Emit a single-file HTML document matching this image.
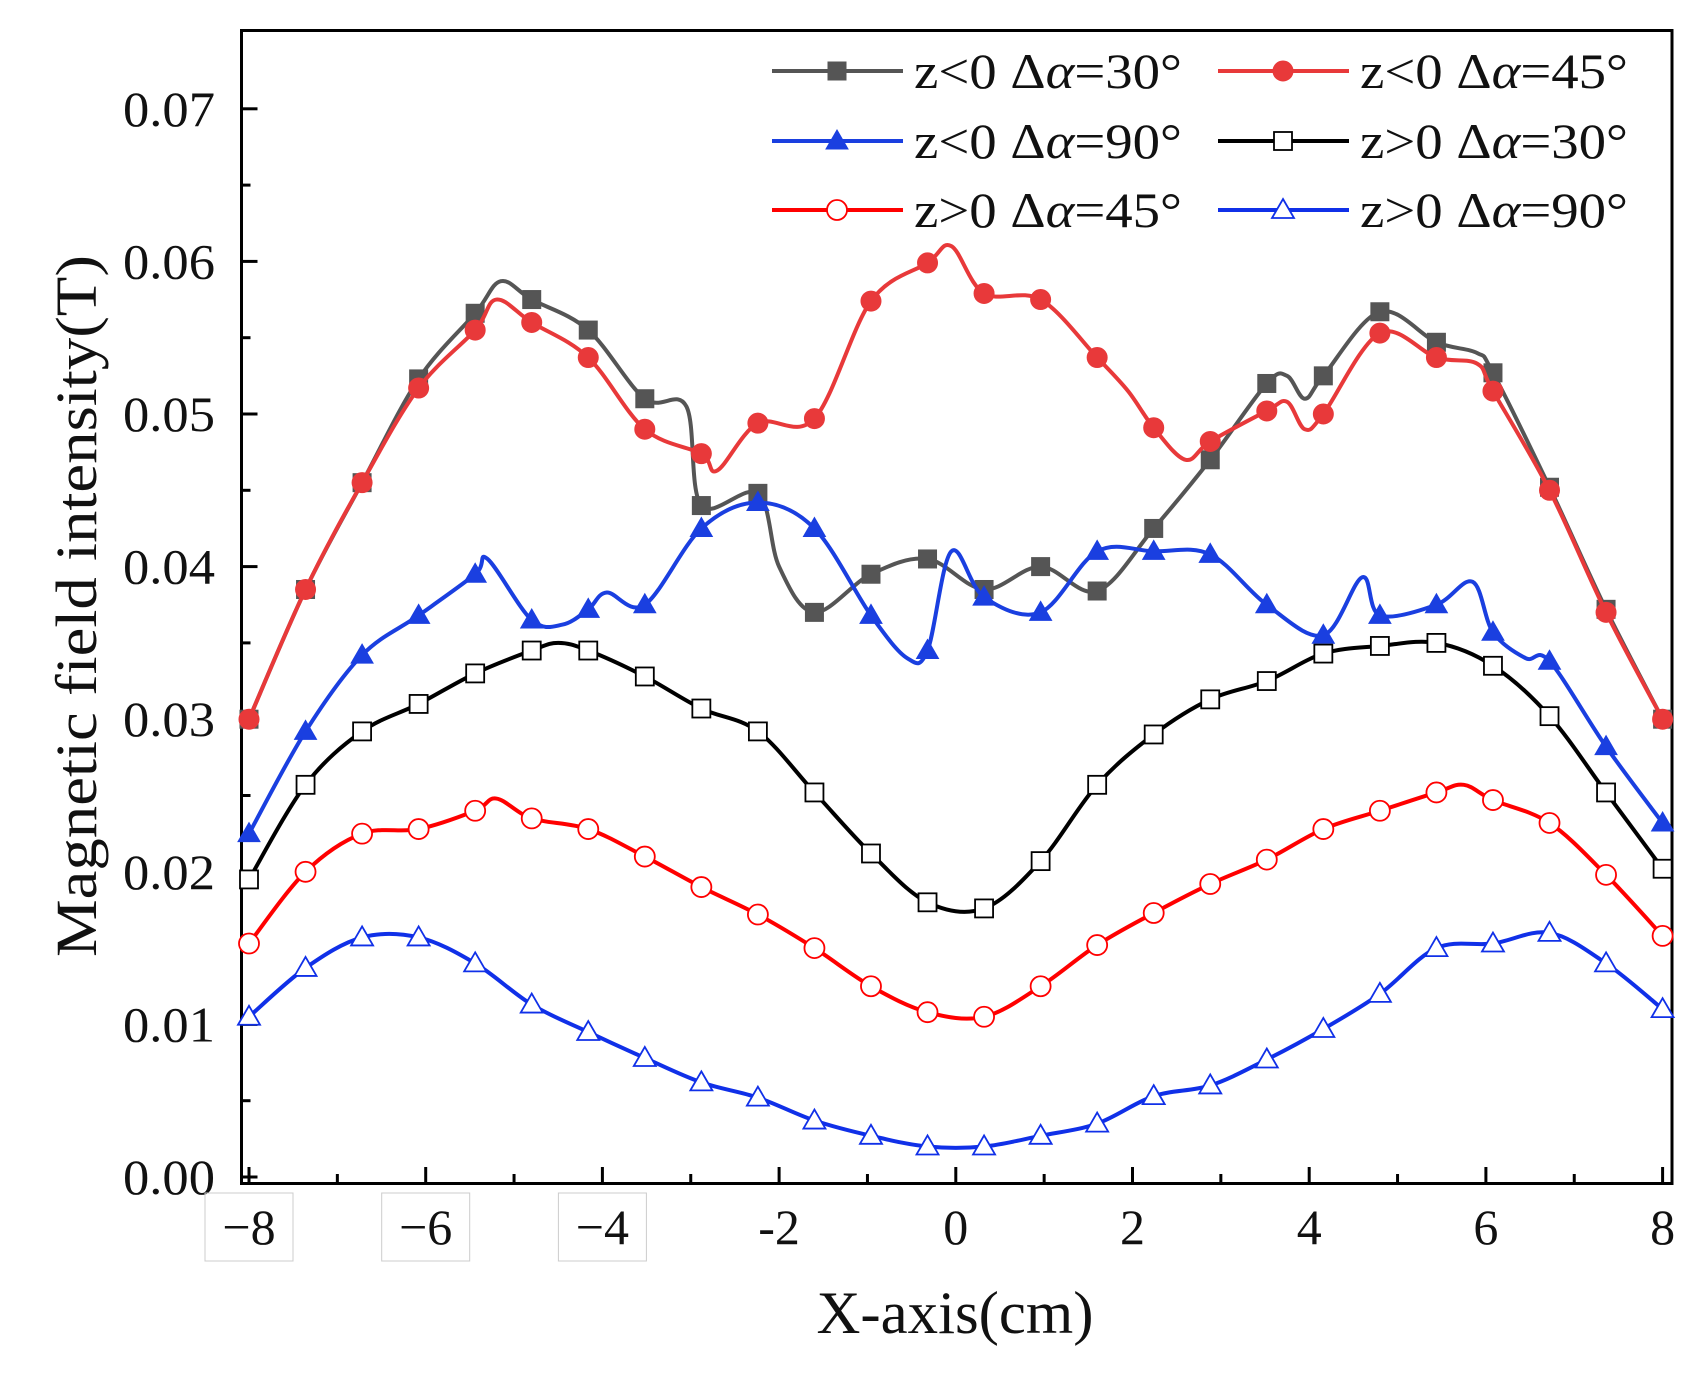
<!DOCTYPE html>
<html><head><meta charset="utf-8"><style>
html,body{margin:0;padding:0;background:#fff;}
svg{display:block;}
text{font-family:"Liberation Serif",serif;fill:#111;}
</style></head><body>
<svg id="s" width="1697" height="1376" viewBox="0 0 1697 1376" xmlns="http://www.w3.org/2000/svg"></svg>
<script>
const X0=955.8,XU=88.35,Y0=1177,YU=15260;
const px=x=>X0+x*XU, py=v=>Y0-v*YU;
const xs=[];for(let k=0;k<26;k++)xs.push(-8+k*0.64);
const S=[
{c:"#555",m:"sq",f:true,d:[0.030,0.0385,0.0455,0.0523,0.0566,0.0575,0.0555,0.051,0.044,0.0448,0.037,0.0395,0.0405,0.0385,0.040,0.0384,0.0425,0.047,0.052,0.0525,0.0567,0.0547,0.0527,0.0452,0.0372,0.030],
 e:[[-5.15,0.0587],[-3.05,0.0505],[-2.0,0.040],[3.75,0.0525],[3.95,0.051],[5.9,0.054]]},
{c:"#e8393a",m:"ci",f:true,d:[0.030,0.0385,0.0455,0.0517,0.0555,0.056,0.0537,0.049,0.0474,0.0494,0.0497,0.0574,0.0599,0.0579,0.0575,0.0537,0.0491,0.0482,0.0502,0.0500,0.0553,0.0537,0.0515,0.045,0.037,0.030],
 e:[[-5.2,0.0575],[-2.7,0.0463],[-0.05,0.061],[1.95,0.0515],[2.6,0.047],[3.75,0.0508],[3.95,0.049],[5.9,0.0533]]},
{c:"#1a3fe0",m:"tr",f:true,d:[0.0225,0.0292,0.0342,0.0368,0.0395,0.0365,0.0372,0.0375,0.0425,0.0442,0.0425,0.0368,0.0345,0.0380,0.0370,0.0410,0.0410,0.0408,0.0375,0.0355,0.0368,0.0375,0.0357,0.0338,0.0282,0.0232],
 e:[[-5.3,0.0405],[-4.45,0.0362],[-3.95,0.0383],[-0.55,0.034],[-0.05,0.041],[4.6,0.0393],[5.85,0.039],[6.45,0.034]]},
{c:"#000",m:"sq",f:false,d:[0.0195,0.0257,0.0292,0.0310,0.0330,0.0345,0.0345,0.0328,0.0307,0.0292,0.0252,0.0212,0.0180,0.0176,0.0207,0.0257,0.0290,0.0313,0.0325,0.0343,0.0348,0.0350,0.0335,0.0302,0.0252,0.0202],e:[[-4.5,0.035]]},
{c:"#f00",m:"ci",f:false,d:[0.0153,0.0200,0.0225,0.0228,0.0240,0.0235,0.0228,0.0210,0.0190,0.0172,0.0150,0.0125,0.0108,0.0105,0.0125,0.0152,0.0173,0.0192,0.0208,0.0228,0.0240,0.0252,0.0247,0.0232,0.0198,0.0158],e:[[-5.2,0.0248],[5.75,0.0257]]},
{c:"#1030e8",m:"tr",f:false,d:[0.0105,0.0137,0.0157,0.0157,0.0140,0.0113,0.0095,0.0078,0.0062,0.0052,0.0037,0.0027,0.0020,0.0020,0.0027,0.0035,0.0053,0.0060,0.0077,0.0097,0.0120,0.0150,0.0153,0.0160,0.0140,0.0110],e:[]}
];
function marker(m,x,y,c,f){
 const fill=f?c:"#fff",st=`fill="${fill}" stroke="${c}" stroke-width="${f?1:1.8}"`;
 if(m=="sq")return `<rect x="${x-9}" y="${y-9}" width="18" height="18" ${st}/>`;
 if(m=="ci")return `<circle cx="${x}" cy="${y}" r="10" ${st}/>`;
 return `<polygon points="${x},${y-11} ${x+11},${y+8} ${x-11},${y+8}" ${st}/>`;
}
function path(P){let d=`M${P[0][0]},${P[0][1]}`;
 for(let i=0;i<P.length-1;i++){const p0=P[Math.max(i-1,0)],p1=P[i],p2=P[i+1],p3=P[Math.min(i+2,P.length-1)];
 d+=` C${p1[0]+(p2[0]-p0[0])/6},${p1[1]+(p2[1]-p0[1])/6} ${p2[0]-(p3[0]-p1[0])/6},${p2[1]-(p3[1]-p1[1])/6} ${p2[0]},${p2[1]}`;}
 return d;}
let h="";
h+=`<rect x="241.5" y="30.5" width="1430.5" height="1153" fill="none" stroke="#000" stroke-width="3"/>`;
for(let i=0;i<=14;i++){const v=i*0.005,y=py(v);const L=i%2==0?16:9;h+=`<line x1="241.5" x2="${241.5+L}" y1="${y}" y2="${y}" stroke="#000" stroke-width="3"/>`;
 if(i%2==0)h+=`<text x="215" y="${y+17}" font-size="50" text-anchor="end" textLength="92" lengthAdjust="spacingAndGlyphs">${(v).toFixed(2)}</text>`;}
for(let x=-8;x<=8;x++){const X=px(x);const L=x%2==0?16:9;h+=`<line x1="${X}" x2="${X}" y1="1183" y2="${1183-L}" stroke="#000" stroke-width="3"/>`;
 if(x%2==0){const lab=x<0?(x<=-4?"\u2212"+(-x):"-"+(-x)):""+x;
 if(x<=-4)h+=`<rect x="${X-44}" y="1193" width="88" height="68" fill="none" stroke="#ccc" stroke-width="1"/>`;
 h+=`<text x="${X}" y="1244" font-size="50" text-anchor="middle">${lab}</text>`;}}
h+=`<text x="955" y="1333" font-size="60" text-anchor="middle" textLength="277" lengthAdjust="spacingAndGlyphs">X-axis(cm)</text>`;
h+=`<text transform="translate(96,606) rotate(-90)" font-size="58" text-anchor="middle" textLength="702" lengthAdjust="spacingAndGlyphs">Magnetic field intensity(T)</text>`;
for(const s of S){const P=s.d.map((v,i)=>[px(xs[i]),py(v)]);
 const A=P.concat(s.e.map(([x,v])=>[px(x),py(v)])).sort((a,b)=>a[0]-b[0]);
 h+=`<path d="${path(A)}" fill="none" stroke="${s.c}" stroke-width="4"/>`;
 for(const p of P)h+=marker(s.m,p[0],p[1],s.c,s.f);}
const L=[[0,772,71,"z&lt;0 \u0394<tspan font-style='italic'>\u03b1</tspan>=30\u00b0"],[1,1218,71,"z&lt;0 \u0394<tspan font-style='italic'>\u03b1</tspan>=45\u00b0"],
[2,772,141,"z&lt;0 \u0394<tspan font-style='italic'>\u03b1</tspan>=90\u00b0"],[3,1218,141,"z&gt;0 \u0394<tspan font-style='italic'>\u03b1</tspan>=30\u00b0"],
[4,772,210,"z&gt;0 \u0394<tspan font-style='italic'>\u03b1</tspan>=45\u00b0"],[5,1218,210,"z&gt;0 \u0394<tspan font-style='italic'>\u03b1</tspan>=90\u00b0"]];
for(const [i,x,y,t] of L){const s=S[i];h+=`<line x1="${x}" x2="${x+131}" y1="${y}" y2="${y}" stroke="${s.c}" stroke-width="4"/>`+marker(s.m,x+65,y,s.c,s.f);
 h+=`<text x="${x+142}" y="${y+17}" font-size="50" textLength="268" lengthAdjust="spacingAndGlyphs">${t}</text>`;}
document.getElementById("s").innerHTML=h;
</script>
</body></html>
